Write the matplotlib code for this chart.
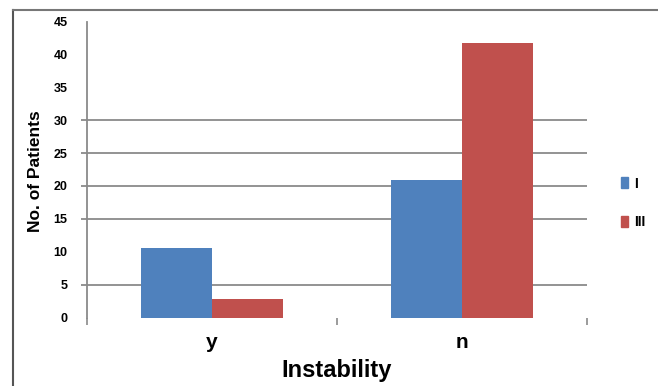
import matplotlib
matplotlib.use("Agg")
import matplotlib.pyplot as plt
from matplotlib.lines import Line2D
from matplotlib.patches import Patch
import numpy as np

plt.rcParams['font.family'] = ['Liberation Sans', 'DejaVu Sans']

categories = ["y", "n"]
series_names = ["I", "III"]
values_I = [10.5, 20.9]
values_III = [2.8, 41.7]
y_ticks = [0, 5, 10, 15, 20, 25, 30, 35, 40, 45]
grid_vals = [5, 15, 20, 25, 30]

blue = "#4F81BD"
red = "#C0504D"
gray = "#8a8a8a"

W, H = 658, 386
fig = plt.figure(figsize=(W / 100, H / 100), dpi=100)
ax = fig.add_axes([87 / W, (H - 317.5) / H, 500 / W, 296 / H])

x = np.arange(len(categories))
bw = 0.284
ax.bar(x - bw / 2, values_I, bw, color=blue, zorder=2, label=series_names[0])
ax.bar(x + bw / 2, values_III, bw, color=red, zorder=2, label=series_names[1])

ax.hlines(grid_vals, -0.525, 1.5, colors=gray, lw=1.3, zorder=1, clip_on=False)

ax.set_xlim(-0.5, 1.5)
ax.set_ylim(0, 45)
ax.set_yticks(y_ticks)
ax.set_yticklabels([str(v) for v in y_ticks], fontsize=9, fontweight='heavy')
ax.tick_params(axis='y', length=0, pad=14)
ax.set_xticks(x)
ax.set_xticklabels(categories, fontsize=15, fontweight='bold')
ax.tick_params(axis='x', length=0, pad=11)
ax.set_xticks([-0.5, 0.5, 1.5], minor=True)
ax.tick_params(axis='x', which='minor', length=5, width=1.2, color=gray, direction='out')

for s in ['top', 'right', 'bottom']:
    ax.spines[s].set_visible(False)
ax.spines['left'].set_color(gray)
ax.spines['left'].set_linewidth(1.3)

ax.set_xlabel("Instability", fontsize=17, fontweight='bold', labelpad=5)
fig.text(36 / W, 1 - 171 / H, "No. of Patients", rotation=90, ha='center', va='center',
         fontsize=12.5, fontweight='bold')

handles = [Patch(color=blue), Patch(color=red)]
ax.legend(handles, series_names, frameon=False, loc='center left',
          bbox_to_anchor=(608 / W, 1 - 203 / H), bbox_transform=fig.transFigure,
          handlelength=0.55, handleheight=0.9, handletextpad=0.45, labelspacing=1.8,
          prop={'weight': 'bold', 'size': 10})

fig.add_artist(Line2D([13 / W, 13 / W], [0, 1 - 10 / H], color="#555555", lw=1.5))
fig.add_artist(Line2D([13 / W, 1], [1 - 10 / H, 1 - 10 / H], color="#777777", lw=1.5))

fig.savefig("out.png", dpi=100)
